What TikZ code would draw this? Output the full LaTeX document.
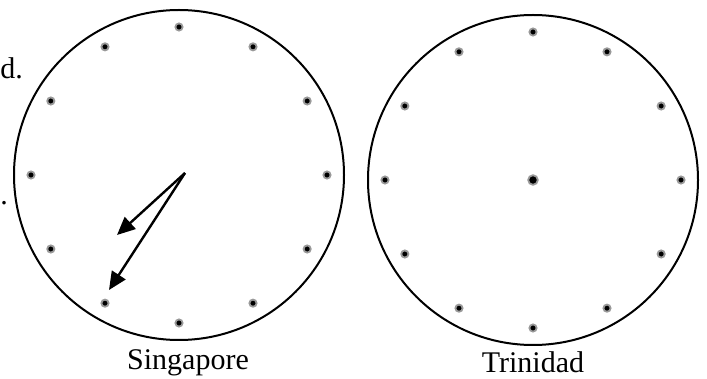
\documentclass[tikz,border=0pt]{standalone}
\usepackage{fontspec}
\setmainfont{Liberation Serif}
\usetikzlibrary{arrows.meta, calc}

\begin{document}
\begin{tikzpicture}[x=0.5pt, y=-0.5pt,
    face/.style={line width=1pt},
    mark dot/.style={fill=black, draw=gray!80, line width=0.9pt},
    hand/.style={line width=1.2pt, -{Triangle[length=9pt, width=8pt]}},
    clock label/.style={font=\fontsize{15}{18}\selectfont, anchor=base}]

    \useasboundingbox (0,0) rectangle (707,379);

    % 1. TEXTO CORTADO (margen izquierdo)
    \node[clock label, anchor=base west, inner sep=0pt] (cutA) at (0,79) {d.};
    \node[clock label, anchor=base west, inner sep=0pt] (cutB) at (0,205) {.};

    % 2. RELOJ DE SINGAPUR
    \coordinate (sgC) at (179,175);
    \draw[face] (sgC) circle (165);
    \foreach \a in {0,30,...,330} { \fill[mark dot] ($(sgC)+(\a:148)$) circle (3.6); }
    % Agujas
    \coordinate (sgPivot) at (185,173);
    \coordinate (sgShort) at (117,235);
    \coordinate (sgLong) at (109,290);
    \draw[hand] (sgPivot) -- (sgShort);
    \draw[hand] (sgPivot) -- (sgLong);
    \node[clock label] (sgName) at (188,370) {Singapore};

    % 3. RELOJ DE TRINIDAD
    \coordinate (trC) at (533,180);
    \draw[face] (trC) circle (165);
    \foreach \a in {0,30,...,330} { \fill[mark dot] ($(trC)+(\a:148)$) circle (3.6); }
    \fill[mark dot] (trC) circle (4.8);
    \node[clock label] (trName) at (533,372) {Trinidad};

\end{tikzpicture}
\end{document}
